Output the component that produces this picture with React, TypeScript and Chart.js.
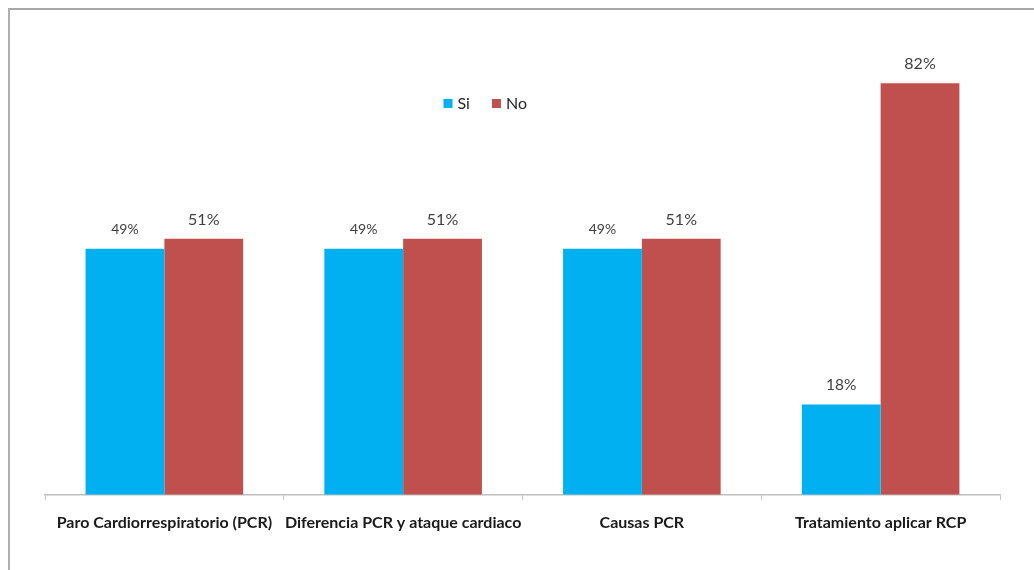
import React, { useEffect, useRef } from "react";
import { Chart, registerables } from "chart.js";

Chart.register(...registerables);

const categories = [
  "Paro Cardiorrespiratorio (PCR)",
  "Diferencia PCR y ataque cardiaco",
  "Causas PCR",
  "Tratamiento aplicar RCP",
];
const siValues = [49, 49, 49, 18];
const noValues = [51, 51, 51, 82];
const seriesNames = ["Si", "No"];
const seriesColors = ["#00b0f0", "#c0504d"];

const FONT = "Lato, 'Open Sans', 'DejaVu Sans', sans-serif";

const valueLabels = {
  id: "valueLabels",
  afterDatasetsDraw(chart: any) {
    const ctx = chart.ctx;
    ctx.save();
    ctx.textAlign = "center";
    ctx.textBaseline = "middle";
    ctx.fillStyle = "#404040";
    chart.data.datasets.forEach((ds: any, di: number) => {
      const meta = chart.getDatasetMeta(di);
      meta.data.forEach((bar: any, i: number) => {
        const v = ds.data[i];
        const size = di === 0 && v < 40 ? 15.5 : di === 0 ? 14 : 16;
        ctx.font = `${size}px ${FONT}`;
        ctx.fillText(`${v}%`, bar.x, bar.y - 19);
      });
    });
    ctx.restore();
  },
};

const customLegend = {
  id: "customLegend",
  afterDraw(chart: any) {
    const ctx = chart.ctx;
    const area = chart.chartArea;
    ctx.save();
    ctx.font = `16px ${FONT}`;
    ctx.textBaseline = "middle";
    const y = area.top + 60;
    let x = area.left + (area.right - area.left) / 2 - 79;
    seriesNames.forEach((name, i) => {
      ctx.fillStyle = seriesColors[i];
      ctx.fillRect(x, y - 4, 9, 9);
      ctx.fillStyle = "#262626";
      ctx.fillText(name, x + 14, y + 1);
      x += 14 + ctx.measureText(name).width + 22;
    });
    ctx.restore();
  },
};

export default function App() {
  const ref = useRef<HTMLCanvasElement | null>(null);
  useEffect(() => {
    if (!ref.current) return;
    const chart = new Chart(ref.current, {
      type: "bar",
      data: {
        labels: categories,
        datasets: [
          {
            label: seriesNames[0],
            data: siValues,
            backgroundColor: seriesColors[0],
            categoryPercentage: 0.66,
            barPercentage: 1,
          },
          {
            label: seriesNames[1],
            data: noValues,
            backgroundColor: seriesColors[1],
            categoryPercentage: 0.66,
            barPercentage: 1,
          },
        ],
      },
      options: {
        responsive: false,
        animation: false,
        layout: { padding: { left: 45, right: 34, top: 43, bottom: 25 } },
        plugins: {
          legend: { display: false },
          tooltip: { enabled: false },
        },
        scales: {
          y: { display: false, min: 0, max: 90 },
          x: {
            grid: {
              drawOnChartArea: false,
              color: "#bfbfbf",
              tickLength: 5,
              offset: true,
            },
            border: { color: "#bfbfbf", width: 1.5 },
            ticks: {
              color: "#1a1a1a",
              font: { family: FONT, size: 16, weight: "bold" },
              padding: 13,
              maxRotation: 0,
              autoSkip: false,
            },
          },
        },
      },
      plugins: [valueLabels, customLegend],
    });
    return () => chart.destroy();
  }, []);
  return (
    <div style={{ position: "fixed", left: 0, top: 0, width: 1034, height: 570, background: "#fff" }}>
      <div
        style={{
          position: "absolute",
          left: 8,
          top: 8,
          right: 0,
          bottom: 0,
          borderTop: "2px solid #a6a6a6",
          borderLeft: "2px solid #b0b0b0",
        }}
      />
      <canvas ref={ref} width={1034} height={570} style={{ position: "absolute", left: 0, top: 0 }} />
    </div>
  );
}
